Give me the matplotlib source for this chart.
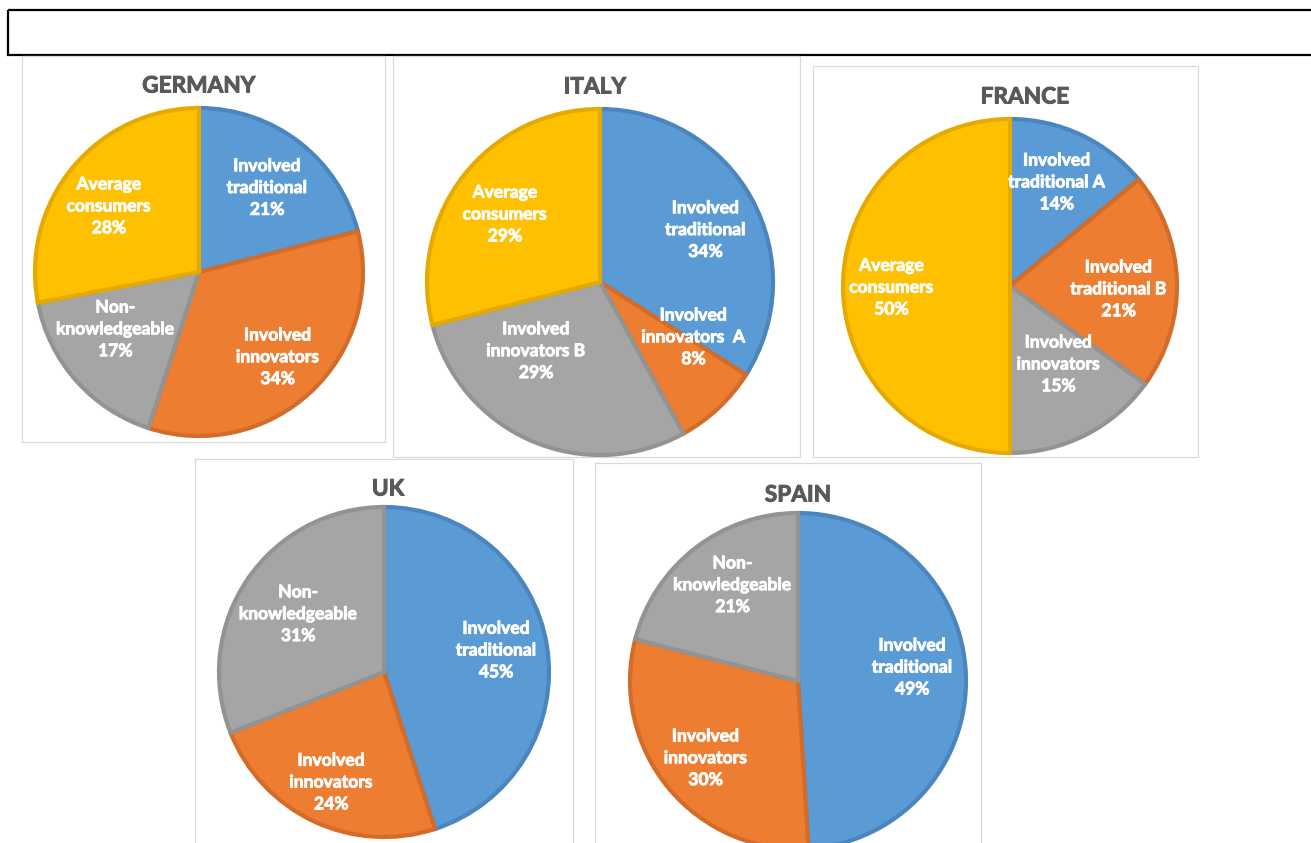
import matplotlib
matplotlib.use("Agg")
import matplotlib.pyplot as plt
from matplotlib.patches import Rectangle
import matplotlib.patheffects as pe

# ---------------- data ----------------
germany_labels = ["Involved\ntraditional", "Involved\ninnovators", "Non-\nknowledgeable", "Average\nconsumers"]
germany_values = [21, 34, 17, 28]

italy_labels = ["Involved\ntraditional", "Involved\ninnovators  A", "Involved\ninnovators B", "Average\nconsumers"]
italy_values = [34, 8, 29, 29]

france_labels = ["Involved\ntraditional A", "Involved\ntraditional B", "Involved\ninnovators", "Average\nconsumers"]
france_values = [14, 21, 15, 50]

uk_labels = ["Involved\ntraditional", "Involved\ninnovators", "Non-\nknowledgeable"]
uk_values = [45, 24, 31]

spain_labels = ["Involved\ntraditional", "Involved\ninnovators", "Non-\nknowledgeable"]
spain_values = [49, 30, 21]

titles = ["GERMANY", "ITALY", "FRANCE", "UK", "SPAIN"]

# ---------------- style ----------------
FILL = ["#5B9BD5", "#ED7D31", "#A5A5A5", "#FFC000"]
EDGE = ["#4B85BE", "#D26C28", "#939393", "#E4AA00"]
FONT = ["Lato", "DejaVu Sans"]

W, H = 1311, 843
fig = plt.figure(figsize=(W / 100, H / 100), dpi=100)
fig.patch.set_facecolor("white")

# overlay axes in pixel coordinates for frames and titles
ov = fig.add_axes([0, 0, 1, 1])
ov.set_xlim(0, W)
ov.set_ylim(H, 0)
ov.axis("off")
ov.set_zorder(0)

# black empty title box at top
ov.add_patch(Rectangle((8, 10), W + 20, 45, fill=False, edgecolor="black", linewidth=1.6))

# panel frames (x0, y0, x1, y1) in pixels
panels = [(22, 56, 385, 442), (393, 56, 800, 457), (813, 66, 1198, 457),
          (195, 459, 573, 850), (595, 463, 981, 850)]
for (x0, y0, x1, y1) in panels:
    ov.add_patch(Rectangle((x0, y0), x1 - x0, y1 - y0, fill=False,
                           edgecolor="#D9D9D9", linewidth=0.9))

# title positions (pixel centers)
title_xy = [(199, 86), (595, 87), (1025, 97), (388, 489), (798, 495)]
for t, (tx, ty) in zip(titles, title_xy):
    ov.text(tx, ty, t, ha="center", va="center", fontsize=16.3, fontweight="bold",
            color="#595959", family=FONT,
            path_effects=[pe.withStroke(linewidth=0.7, foreground="#595959")])

# pie geometry: center x, center y, radius (pixels)
pie_geom = [(199, 272, 164), (600, 282, 173), (1010, 286, 167), (384, 672, 165), (798, 681, 168)]

# label positions in pie-radius units
label_pos = [
    [(0.415, 0.512), (0.48, -0.52), (-0.51, -0.35), (-0.55, 0.40)],
    [(0.61, 0.30), (0.54, -0.32), (-0.37, -0.40), (-0.55, 0.39)],
    [(0.28, 0.62), (0.65, -0.02), (0.29, -0.47), (-0.71, -0.01)],
    [(0.68, 0.13), (-0.32, -0.67), (-0.52, 0.35)],
    [(0.68, 0.08), (-0.55, -0.46), (-0.39, 0.57)],
]

datasets = [
    (germany_labels, germany_values),
    (italy_labels, italy_values),
    (france_labels, france_values),
    (uk_labels, uk_values),
    (spain_labels, spain_values),
]

pad = 1.06
for (labels, values), (cx, cy, r), lpos in zip(datasets, pie_geom, label_pos):
    half = r * pad
    ax = fig.add_axes([(cx - half) / W, (H - cy - half) / H, 2 * half / W, 2 * half / H])
    ax.set_zorder(1)
    wedges, _ = ax.pie(values, colors=FILL[:len(values)], startangle=90,
                       counterclock=False, radius=1.0,
                       wedgeprops=dict(linewidth=3.0))
    for w, ec in zip(wedges, EDGE):
        w.set_edgecolor(ec)
        w.set_joinstyle("miter")
    ax.set_xlim(-pad, pad)
    ax.set_ylim(-pad, pad)
    ax.set_aspect("equal")
    ax.axis("off")
    for lab, v, (lx, ly) in zip(labels, values, lpos):
        ax.text(lx, ly, f"{lab}\n{v}%", ha="center", va="center", color="white",
                fontsize=12.6, fontweight="bold", family=FONT, linespacing=1.45,
                path_effects=[pe.withStroke(linewidth=0.6, foreground="white")])

fig.savefig("out.png", dpi=100, facecolor="white")
